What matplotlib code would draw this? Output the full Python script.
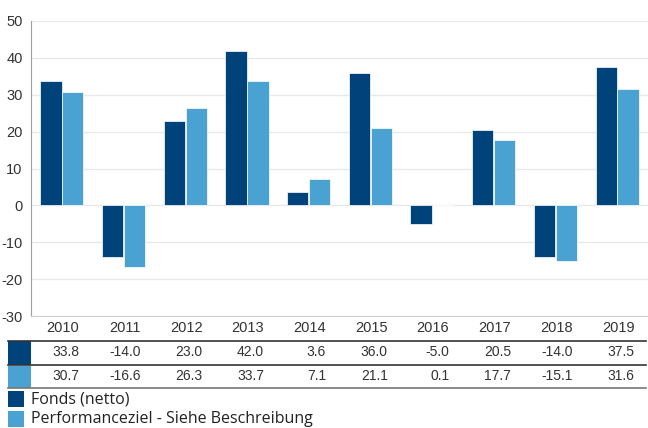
import numpy as np
import matplotlib
import matplotlib.pyplot as plt
from matplotlib.patches import Rectangle
from matplotlib.lines import Line2D
from matplotlib.transforms import blended_transform_factory

matplotlib.use("Agg")
plt.rcParams["axes.unicode_minus"] = False

years = ["2010", "2011", "2012", "2013", "2014", "2015", "2016", "2017", "2018", "2019"]
fonds = [33.8, -14.0, 23.0, 42.0, 3.6, 36.0, -5.0, 20.5, -14.0, 37.5]
perf = [30.7, -16.6, 26.3, 33.7, 7.1, 21.1, 0.1, 17.7, -15.1, 31.6]
labels = ["Fonds (netto)", "Performanceziel - Siehe Beschreibung"]
colors = ["#00437a", "#4aa2d3"]

W, H = 648, 428


def fx(x):
    return x / W


def fy(y):
    return 1 - y / H


fig = plt.figure(figsize=(W / 100, H / 100), dpi=100)
ax = fig.add_axes([fx(31), fy(316), 1 - fx(31), fy(21) - fy(316)])

x = np.arange(len(years))
bw = 0.345
ax.bar(x - bw / 2 - 0.005, fonds, bw, color=colors[0], edgecolor="white", linewidth=0.5, zorder=3)
ax.bar(x + bw / 2 + 0.005, perf, bw, color=colors[1], edgecolor="white", linewidth=0.5, zorder=3)

ax.set_xlim(-0.5, len(years) - 0.5)
ax.set_ylim(-30, 50)
ax.set_yticks(range(-30, 51, 10))
ax.set_xticks([])
ax.grid(axis="y", color="#e9e9e9", linewidth=1, zorder=0)
ax.tick_params(axis="y", length=0, pad=6, labelsize=10.5, labelcolor="#333333")
for t in ax.get_yticklabels():
    t.set_fontfamily("Liberation Sans")
for s in ["top", "right"]:
    ax.spines[s].set_visible(False)
ax.spines["left"].set_color("#a0a0a0")
ax.spines["bottom"].set_color("#d0d0d0")

# table under the chart
tr = blended_transform_factory(ax.transData, fig.transFigure)
rows = [(years, 328), ([f"{v:.1f}" for v in fonds], 352), ([f"{v:.1f}" for v in perf], 376)]
for vals, yy in rows:
    for i, v in enumerate(vals):
        ax.text(i + 0.28, fy(yy), v, transform=tr, ha="right", va="center",
                fontsize=10.5 if vals is years else 10, family="Liberation Sans",
                color="#333333", clip_on=False)

for yy, c in [(341, "#333333"), (365, "#333333"), (388, "#777777")]:
    fig.add_artist(Line2D([fx(8), fx(646)], [fy(yy), fy(yy)], color=c, linewidth=1.2))
for k, (y0, y1) in enumerate([(341.5, 364.5), (365.5, 387.5)]):
    fig.add_artist(Rectangle((fx(8), fy(y1)), fx(31) - fx(8), fy(y0) - fy(y1),
                             facecolor=colors[k], edgecolor="none"))

# legend
for k, (lab, yy) in enumerate(zip(labels, [399, 419])):
    fig.add_artist(Rectangle((fx(8), fy(yy + 8)), fx(16), fy(yy - 8) - fy(yy + 8),
                             facecolor=colors[k], edgecolor="none"))
    fig.text(fx(31), fy(yy), lab, ha="left", va="center", fontsize=11.5,
             family="Open Sans", color="#222222")

fig.savefig("out.png", dpi=100)
